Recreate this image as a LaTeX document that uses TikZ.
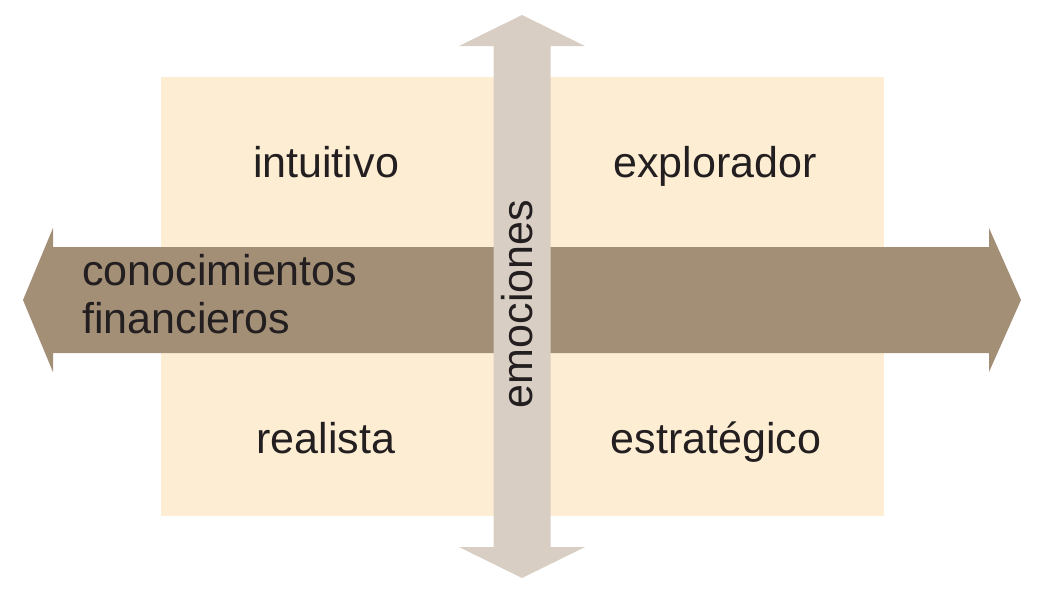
\documentclass[tikz,border=0pt]{standalone}
\usepackage{fontspec}
\setmainfont{Liberation Sans}
\usepackage{tikz}
\usetikzlibrary{positioning}
\definecolor{mycream}{RGB}{253,237,211}
\definecolor{mybrown}{RGB}{163,142,118}
\definecolor{mygrey}{RGB}{217,206,196}
\definecolor{mytext}{RGB}{35,31,32}

\begin{document}
\begin{tikzpicture}[x=0.025cm,y=-0.025cm,
    lbl/.style={text=mytext,inner sep=0pt,font=\fontsize{30.6}{36}\selectfont}]
    \useasboundingbox (0,0) rectangle (1045,600);

    % Draw the four quadrants background
    \fill[mycream] (161,77) rectangle (884,516);

    % Horizontal axis: conocimientos financieros
    \fill[mybrown] (23,300) -- (53,228) -- (53,247) -- (989,247) -- (989,228)
        -- (1021,300) -- (989,372) -- (989,353) -- (53,353) -- (53,372) -- cycle;

    % Vertical axis: emociones
    \fill[mygrey] (522,15) -- (585,46) -- (550.5,46) -- (550.5,547) -- (585,547)
        -- (522,578) -- (459,547) -- (493.5,547) -- (493.5,46) -- (459,46) -- cycle;

    % Quadrant labels
    \node[lbl,anchor=base] (intuitivo) at (326,177) {intuitivo};
    \node[lbl,anchor=base] (explorador) at (715,177) {explorador};
    \node[lbl,anchor=base] (realista) at (326,453) {realista};
    \node[lbl,anchor=base] (estrategico) at (716,453) {estratégico};

    % Axis labels
    \node[lbl,anchor=base west] (conoc) at (82,285) {conocimientos};
    \node[lbl,anchor=base west] (financ) at (82,333) {financieros};
    \node[lbl,anchor=base,rotate=90] (emociones) at (532,304) {emociones};
\end{tikzpicture}
\end{document}
